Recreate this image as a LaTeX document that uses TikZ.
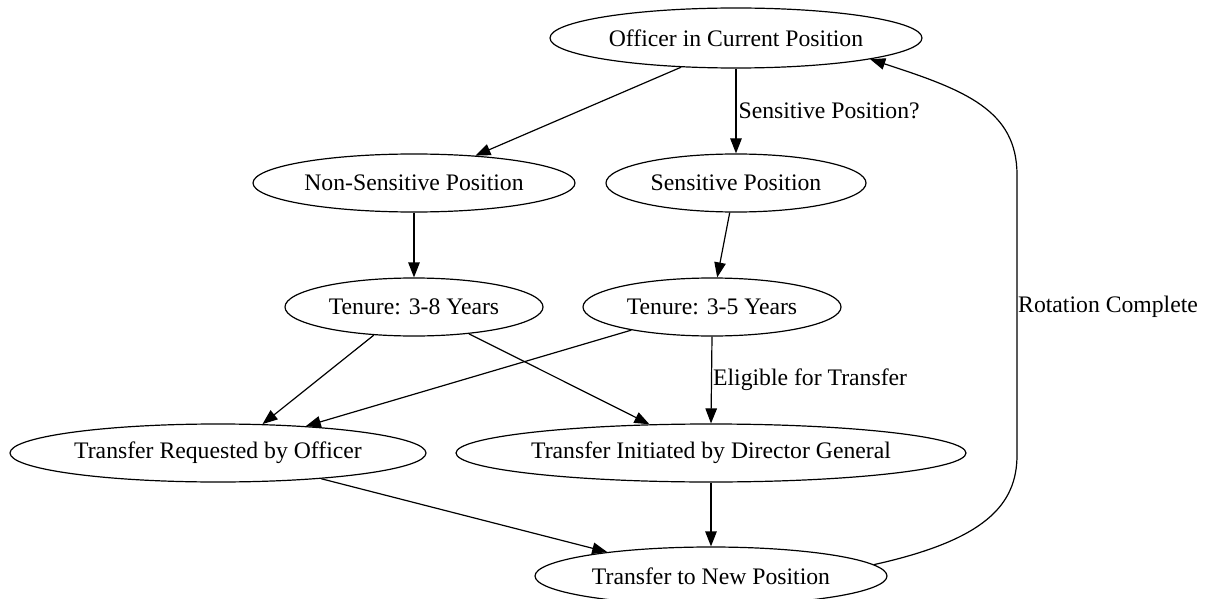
\documentclass[tikz,border=0pt]{standalone}
\usepackage{fontspec}
\setmainfont{Liberation Serif}
\usetikzlibrary{shapes.geometric,arrows.meta}
\tikzset{
  el/.style={ellipse, draw, line width=1.2pt, inner sep=0pt, font=\fontsize{23.7}{28}\selectfont},
  arr/.style={draw, line width=1.2pt, -{Triangle[length=15pt,width=11.5pt]}},
  lbl/.style={anchor=west, inner sep=0pt, font=\fontsize{23.7}{28}\selectfont}
}
\newcommand{\zb}[1]{\makebox[0pt]{#1}}
\begin{document}
\begin{tikzpicture}[x=1pt,y=-1pt]
\useasboundingbox (0,0) rectangle (1205,599);
\node[el, minimum width=372pt, minimum height=60pt] (off) at (736,38) {\zb{Officer in Current Position}};
\node[el, minimum width=322pt, minimum height=58pt] (nons) at (414,183) {\zb{Non-Sensitive Position}};
\node[el, minimum width=260pt, minimum height=58pt] (sens) at (736,183) {\zb{Sensitive Position}};
\node[el, minimum width=258pt, minimum height=58pt] (t38) at (414,307) {\zb{Tenure: 3-8 Years}};
\node[el, minimum width=258pt, minimum height=58pt] (t35) at (712,307) {\zb{Tenure: 3-5 Years}};
\node[el, minimum width=416pt, minimum height=58pt] (req) at (218,453) {\zb{Transfer Requested by Officer}};
\node[el, minimum width=510pt, minimum height=58pt] (ini) at (711,453) {\zb{Transfer Initiated by Director General}};
\node[el, minimum width=352pt, minimum height=58pt] (new) at (711,576) {\zb{Transfer to New Position}};

\draw[arr] (off.208) -- (nons.24);
\draw[arr] (off.south) -- node[lbl, pos=0.5, xshift=2pt] (l1) {Sensitive Position?} (sens.north);
\draw[arr] (nons.south) -- (t38.north);
\draw[arr] (sens.258) -- (t35.80);
\draw[arr] (t38.215) -- (req.33);
\draw[arr] (t38.-26) -- (ini.155);
\draw[arr] (t35.196) -- (req.17);
\draw[arr] (t35.south) -- node[lbl, pos=0.5, xshift=1pt] (l2) {Eligible for Transfer} (ini.north);
\draw[arr] (req.-14) -- (new.167);
\draw[arr] (ini.south) -- (new.north);
\coordinate (c1) at (1017,455);
\coordinate (c2) at (1017,175);
\draw[arr] (new.4) .. controls (985,540) and (1017,505) .. (c1) -- (c2) .. controls (1017,110) and (965,90) .. (off.-9);
\node[lbl] (l3) at (1018,307) {Rotation Complete};
\end{tikzpicture}
\end{document}
